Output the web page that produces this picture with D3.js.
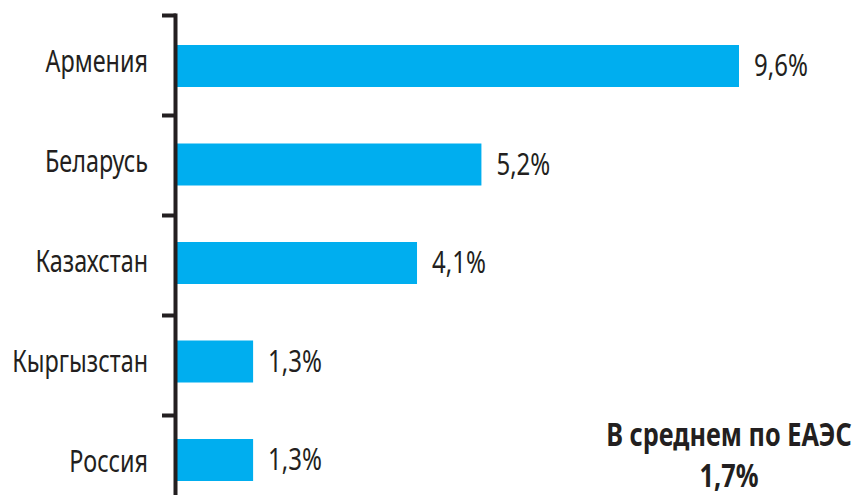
<!DOCTYPE html>
<html>
<head>
<meta charset="utf-8">
<script src="https://cdn.jsdelivr.net/npm/d3@7"></script>
<style>
  html, body { margin: 0; padding: 0; background: #ffffff; }
  svg { display: block; }
  text { font-family: "Noto Sans", "Open Sans", sans-serif; fill: #231f20; }
</style>
</head>
<body>
<svg id="chart" width="859" height="495"></svg>
<script>
const categories = ["Армения", "Беларусь", "Казахстан", "Кыргызстан", "Россия"];
const values = [9.6, 5.2, 4.1, 1.3, 1.3];
const valueLabels = ["9,6%", "5,2%", "4,1%", "1,3%", "1,3%"];
const noteLines = ["В среднем по ЕАЭС", "1,7%"];

const svg = d3.select("#chart");
const W = 859, H = 495;
const x0 = 177;

const x = d3.scaleLinear().domain([0, 9.6]).range([x0, 739]);
const yTick = d3.scaleBand().domain(categories).range([15, 515]).padding(0);
const yBar = d3.scalePoint().domain(categories).range([66, 460]);
const barH = 42;

// bars
svg.append("g").selectAll("rect").data(categories).join("rect")
  .attr("x", x(0))
  .attr("y", d => yBar(d) - barH / 2)
  .attr("width", (d, i) => x(values[i]) - x(0))
  .attr("height", barH)
  .attr("fill", "#00aeef");

// axis line
svg.append("line")
  .attr("x1", 175.5).attr("x2", 175.5)
  .attr("y1", 13.5).attr("y2", H)
  .attr("stroke", "#231f20").attr("stroke-width", 4);

// ticks at band boundaries
svg.append("g").selectAll("line").data(categories).join("line")
  .attr("x1", 162).attr("x2", 176)
  .attr("y1", d => yTick(d) + 0.5).attr("y2", d => yTick(d) + 0.5)
  .attr("stroke", "#231f20").attr("stroke-width", 4);

// category labels (narrow look via horizontal scale)
svg.append("g").selectAll("text").data(categories).join("text")
  .attr("transform", d => `translate(148,${yTick(d) + yTick.bandwidth() / 2 + 7}) scale(0.78,1)`)
  .attr("text-anchor", "end")
  .style("font-size", "30px")
  .text(d => d);

// value labels
svg.append("g").selectAll("text").data(categories).join("text")
  .attr("transform", (d, i) => `translate(${x(values[i]) + 15},${yBar(d) + 10}) scale(0.8,1)`)
  .attr("text-anchor", "start")
  .style("font-size", "30px")
  .text((d, i) => valueLabels[i]);

// note
svg.append("g").selectAll("text").data(noteLines).join("text")
  .attr("transform", (d, i) => `translate(729,${i === 0 ? 446 : 487}) scale(0.79,1)`)
  .attr("text-anchor", "middle")
  .style("font-size", "32px").style("font-weight", "bold")
  .text(d => d);
</script>
</body>
</html>
